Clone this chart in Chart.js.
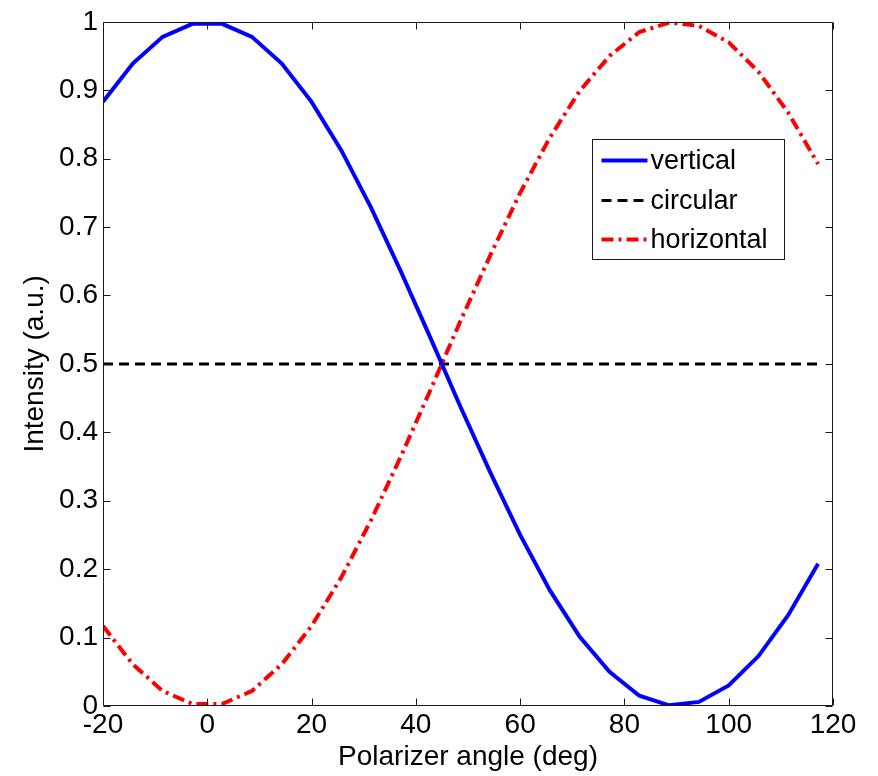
<!DOCTYPE html>
<html><head><meta charset="utf-8">
<script src="https://cdn.jsdelivr.net/npm/chart.js@4.4.1/dist/chart.umd.min.js"></script>
<style>html,body{margin:0;padding:0;background:#fff}canvas{display:block}</style>
</head><body>
<canvas id="c" width="878" height="776"></canvas>
<script>
const angles = [-20, -14.29, -8.57, -2.86, 2.86, 8.57, 14.29, 20, 25.71, 31.43, 37.14, 42.86, 48.57, 54.29, 60, 65.71, 71.43, 77.14, 82.86, 88.57, 94.29, 100, 105.71, 111.43, 117.14];
const vertical = [0.883, 0.939, 0.978, 0.997, 0.997, 0.978, 0.939, 0.883, 0.812, 0.728, 0.635, 0.537, 0.437, 0.341, 0.25, 0.169, 0.101, 0.05, 0.015, 0.001, 0.006, 0.03, 0.073, 0.133, 0.208];
const circular = [0.5, 0.5, 0.5, 0.5, 0.5, 0.5, 0.5, 0.5, 0.5, 0.5, 0.5, 0.5, 0.5, 0.5, 0.5, 0.5, 0.5, 0.5, 0.5, 0.5, 0.5, 0.5, 0.5, 0.5, 0.5];
const horizontal = [0.117, 0.061, 0.022, 0.003, 0.003, 0.022, 0.061, 0.117, 0.188, 0.272, 0.365, 0.463, 0.563, 0.659, 0.75, 0.831, 0.899, 0.95, 0.985, 0.999, 0.994, 0.97, 0.927, 0.867, 0.792];
const xTickLabels = ['-20', '0', '20', '40', '60', '80', '100', '120'];
const yTickLabels = ['0', '0.1', '0.2', '0.3', '0.4', '0.5', '0.6', '0.7', '0.8', '0.9', '1'];
const seriesNames = ['vertical', 'circular', 'horizontal'];
const xTitle = 'Polarizer angle (deg)';
const yTitle = 'Intensity (a.u.)';

const FONT = "'Liberation Sans', Arial, sans-serif";
const AX = '#1a1a1a';

function pts(ys) { return angles.map((a, i) => ({x: a, y: ys[i]})); }

const boxPlugin = {
  id: 'matlabBox',
  afterDraw(chart) {
    const {ctx, chartArea: ca, scales} = chart;
    ctx.save();
    ctx.strokeStyle = AX;
    ctx.lineWidth = 1;
    const L = Math.round(ca.left) + 0.5, R = Math.round(ca.right) - 0.5;
    const T = Math.round(ca.top) + 0.5, B = Math.round(ca.bottom) - 0.5;
    ctx.beginPath();
    ctx.rect(L, T, R - L, B - T);
    const tl = 7;
    scales.x.ticks.forEach(t => {
      const px = Math.round(scales.x.getPixelForValue(t.value)) + 0.5;
      ctx.moveTo(px, B); ctx.lineTo(px, B - tl);
      ctx.moveTo(px, T); ctx.lineTo(px, T + tl);
    });
    scales.y.ticks.forEach(t => {
      const py = Math.round(scales.y.getPixelForValue(t.value)) + 0.5;
      ctx.moveTo(L, py); ctx.lineTo(L + tl, py);
      ctx.moveTo(R, py); ctx.lineTo(R - tl, py);
    });
    ctx.stroke();

    // legend
    const lx = Math.round(ca.right) - 241 + 0.5, ly = Math.round(ca.top) + 117 + 0.5;
    const lw = 192, lh = 120;
    ctx.fillStyle = '#fff';
    ctx.fillRect(lx, ly, lw, lh);
    ctx.strokeStyle = AX;
    ctx.lineWidth = 1;
    ctx.setLineDash([]);
    ctx.strokeRect(lx, ly, lw, lh);
    const rows = [21, 61, 100];
    chart.data.datasets.forEach((ds, i) => {
      const y = ly + rows[i];
      ctx.beginPath();
      ctx.strokeStyle = ds.borderColor;
      ctx.lineWidth = ds.borderWidth;
      ctx.setLineDash(ds.borderDash || []);
      ctx.moveTo(lx + 9, y); ctx.lineTo(lx + 55, y);
      ctx.stroke();
      ctx.setLineDash([]);
      ctx.fillStyle = '#000';
      ctx.font = '27px ' + FONT;
      ctx.textBaseline = 'middle';
      ctx.textAlign = 'left';
      ctx.fillText(ds.label, lx + 58, y + 1);
    });
    ctx.restore();
  }
};

new Chart(document.getElementById('c'), {
  type: 'line',
  data: {
    datasets: [
      {label: seriesNames[0], data: pts(vertical), borderColor: '#0000ff', borderWidth: 4, pointRadius: 0, tension: 0, fill: false},
      {label: seriesNames[1], data: pts(circular), borderColor: '#000000', borderWidth: 3, borderDash: [10, 6], pointRadius: 0, tension: 0, fill: false},
      {label: seriesNames[2], data: pts(horizontal), borderColor: '#ff0000', borderWidth: 4, borderDash: [12, 5, 3, 5], pointRadius: 0, tension: 0, fill: false}
    ]
  },
  options: {
    responsive: false,
    animation: false,
    devicePixelRatio: 1,
    layout: {padding: {left: 0, right: 45, top: 20, bottom: 0}},
    plugins: {legend: {display: false}, tooltip: {enabled: false}},
    scales: {
      x: {
        type: 'linear', min: -20, max: 120,
        grid: {display: false, drawTicks: false}, border: {display: false},
        ticks: {stepSize: 20, padding: 2, color: '#000', font: {family: FONT, size: 28}, maxRotation: 0,
                callback: (v, i) => xTickLabels[i]},
        title: {display: true, text: xTitle, color: '#000', font: {family: FONT, size: 28}, padding: {top: 0, bottom: 2}},
        afterFit: s => { s.height = 70; }
      },
      y: {
        type: 'linear', min: 0, max: 1,
        grid: {display: false, drawTicks: false}, border: {display: false},
        ticks: {stepSize: 0.1, padding: 5, color: '#000', font: {family: FONT, size: 28},
                callback: (v, i) => yTickLabels[i]},
        title: {display: true, text: yTitle, color: '#000', font: {family: FONT, size: 28}, padding: {top: 18, bottom: 0}},
        afterFit: s => { s.width = 103; }
      }
    }
  },
  plugins: [boxPlugin]
});
</script>
</body></html>
